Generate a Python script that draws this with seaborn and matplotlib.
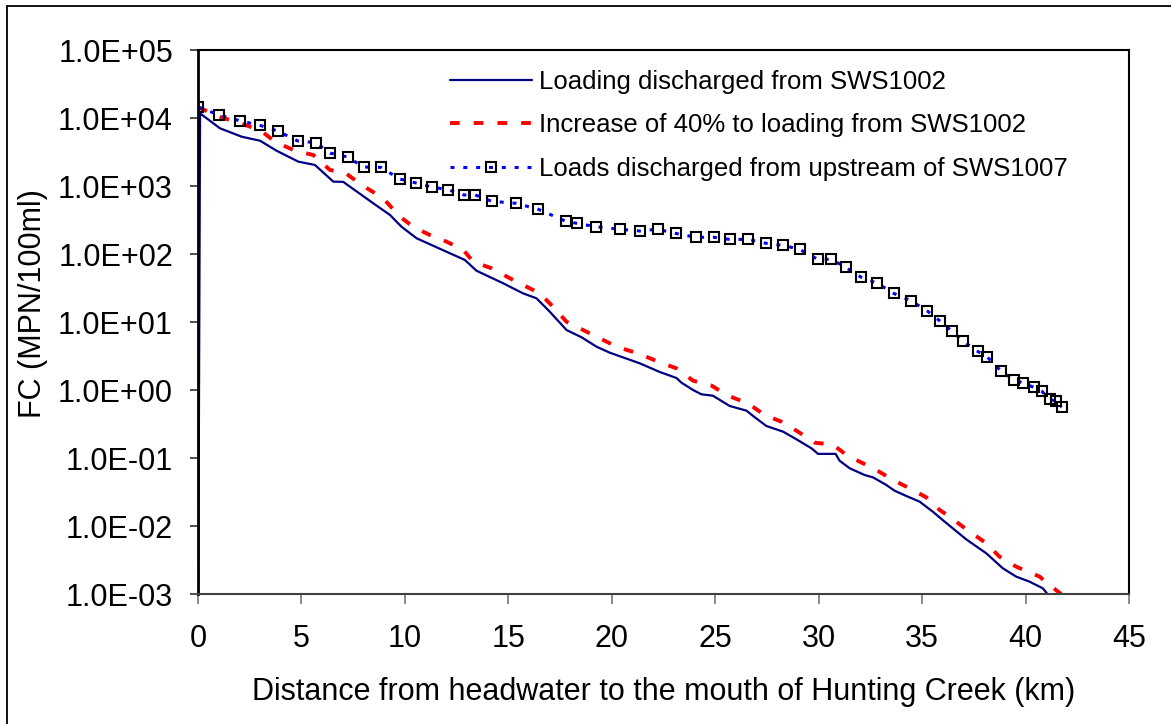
import numpy as np
import pandas as pd
import matplotlib
matplotlib.use('Agg')
import matplotlib.pyplot as plt
from matplotlib.lines import Line2D
import seaborn as sns

# Loading discharged from SWS1002 (km, MPN/100ml)
base_km = [0.0, 0.10, 1.06, 2.11, 3.00, 3.80, 4.85, 5.65, 6.54, 7.02, 8.47, 9.28, 9.84,
           10.57, 12.01, 12.90, 13.46, 14.75, 15.71, 16.36, 17.00, 17.81, 18.54, 19.26,
           19.90, 21.35, 22.32, 23.13, 23.37, 23.93, 24.33, 24.89, 25.70, 26.51, 26.83,
           27.47, 28.28, 28.84, 29.65, 29.97, 30.82, 31.01, 31.50, 32.22, 32.62, 33.27,
           33.67, 34.24, 34.88, 35.52, 36.00, 37.13, 38.10, 38.90, 39.55, 40.19, 40.84,
           41.16, 41.56]
base_fc = [1e-4, 11700, 7060, 5310, 4630, 3300, 2280, 2040, 1160, 1150, 557, 375, 251,
           170, 108, 81.7, 56.8, 37.1, 26.4, 22.3, 14.2, 7.63, 5.96, 4.34,
           3.54, 2.47, 1.84, 1.50, 1.28, 1.0, 0.865, 0.824, 0.582, 0.497, 0.415,
           0.296, 0.244, 0.195, 0.139, 0.115, 0.115, 0.0912, 0.0706, 0.0562, 0.052, 0.0401,
           0.033, 0.0276, 0.0228, 0.0162, 0.0122, 0.00637, 0.00397, 0.00239, 0.0018, 0.00152, 0.00121,
           0.000912, 0.000798]

# Increase of 40% to loading from SWS1002
inc_km = [0.0, 1.06, 2.03, 3.00, 3.72, 4.69, 5.57, 6.38, 7.10, 7.91, 8.95, 9.76, 10.40,
          11.21, 12.01, 12.82, 13.30, 14.19, 15.23, 16.52, 17.16, 17.81, 19.10, 20.23,
          21.35, 22.16, 23.13, 23.93, 24.82, 25.62, 26.58, 27.39, 28.20, 29.00, 29.81,
          30.69, 31.34, 31.98, 32.79, 33.59, 34.40, 35.20, 35.85, 36.33, 36.97, 38.10,
          38.74, 39.55, 40.68, 41.16, 41.72]
inc_fc = [14400, 10400, 8360, 6660, 4480, 3300, 2860, 1720, 1570, 1040, 659, 354, 252,
          190, 152, 115, 77.1, 61.6, 41.5, 26.4, 16.8, 10.1, 6.44, 4.34,
          3.38, 2.67, 2.08, 1.37, 1.16, 0.824, 0.637, 0.429, 0.342, 0.244, 0.168,
          0.157, 0.111, 0.0883, 0.0667, 0.0475, 0.0358, 0.0264, 0.0172, 0.0137, 0.00977, 0.00557,
          0.00354, 0.00252, 0.0018, 0.00135, 0.001]

# Loads discharged from upstream of SWS1007
up_km = [0.01, 1.03, 2.01, 2.98, 3.85, 4.82, 5.69, 6.38, 7.23, 8.00, 8.84, 9.74, 10.53,
         11.29, 12.08, 12.85, 13.40, 14.19, 15.35, 16.41, 17.78, 18.32, 19.23, 20.39,
         21.35, 22.22, 23.09, 24.06, 24.93, 25.70, 26.57, 27.44, 28.29, 29.08, 29.95,
         30.61, 31.30, 32.06, 32.84, 33.62, 34.48, 35.25, 35.85, 36.43, 36.99, 37.68,
         38.15, 38.83, 39.42, 39.90, 40.39, 40.79, 41.16, 41.45, 41.74]
up_fc = [14400, 11100, 9120, 7820, 6440, 4590, 4340, 3050, 2670, 1900, 1880, 1270, 1110,
         966, 883, 738, 738, 596, 557, 459, 303, 282, 252, 231,
         218, 231, 201, 176, 176, 164, 164, 144, 134, 117, 83.6,
         83.6, 63.7, 45.4, 37.1, 26.4, 20.4, 14.5, 10.4, 7.38, 5.2, 3.71,
         3.05, 1.88, 1.42, 1.26, 1.10, 0.957, 0.73, 0.689, 0.557]

labels = ['Loading discharged from SWS1002',
          'Increase of 40% to loading from SWS1002',
          'Loads discharged from upstream of SWS1007']

x_ticks = [0, 5, 10, 15, 20, 25, 30, 35, 40, 45]
y_exps = [-3, -2, -1, 0, 1, 2, 3, 4, 5]

sns.set_style('white')
plt.rcParams['font.family'] = ['Liberation Sans', 'DejaVu Sans']
plt.rcParams['text.color'] = 'black'
plt.rcParams['axes.labelcolor'] = 'black'
plt.rcParams['xtick.labelcolor'] = 'black'
plt.rcParams['ytick.labelcolor'] = 'black'

fig = plt.figure(figsize=(11.71, 7.24), dpi=100)
ax = fig.add_axes([198 / 1171, 130 / 724, 931 / 1171, 544 / 724])
ax.set_yscale('log')

sns.lineplot(x=base_km, y=base_fc, ax=ax, color='#000080', linewidth=1.6,
             sort=False, estimator=None, label=labels[0])
sns.lineplot(x=inc_km, y=inc_fc, ax=ax, color='#FF0000', linewidth=2.8,
             linestyle=(0, (2.5, 3.6)), sort=False, estimator=None, label=labels[1])
sns.lineplot(x=up_km, y=up_fc, ax=ax, color='#0000FF', linewidth=2.2,
             linestyle=(0, (1.3, 2.9)), marker='s', markersize=7.5, markerfacecolor='none',
             markeredgecolor='black', markeredgewidth=1.5,
             sort=False, estimator=None, label=labels[2])

ax.set_xlim(0, 45)
ax.set_ylim(1e-3, 1e5)
ax.set_xticks(x_ticks)
ax.set_xticklabels([str(v) for v in x_ticks], fontsize=22)
ax.set_yticks([10.0 ** e for e in y_exps])
ax.set_yticklabels([f'1.0E{e:+03d}' for e in y_exps], fontsize=22)
ax.yaxis.set_minor_locator(matplotlib.ticker.NullLocator())

ax.tick_params(axis='x', direction='out', length=7.5, width=1.3, color='#808080',
               pad=14, bottom=True)
ax.tick_params(axis='y', direction='out', length=6, width=1.3, color='#404040',
               pad=12, left=True)

for side in ['top', 'right']:
    ax.spines[side].set_color('black')
    ax.spines[side].set_linewidth(1.5)
ax.spines['left'].set_color('black')
ax.spines['left'].set_linewidth(2.0)
ax.spines['bottom'].set_color('#404040')
ax.spines['bottom'].set_linewidth(1.5)

ax.set_xlabel('Distance from headwater to the mouth of Hunting Creek (km)',
              fontsize=22, va='center')
ax.xaxis.set_label_coords(0.5005, -0.18)
ax.set_ylabel('FC (MPN/100ml)', fontsize=22, va='center')
ax.yaxis.set_label_coords(-0.177, 0.533)

leg = ax.legend(loc='upper left', bbox_to_anchor=(450 / 1171, 1 - 70 / 724),
                bbox_transform=fig.transFigure, frameon=False, fontsize=18.5,
                handlelength=3.2, handletextpad=0.27, labelspacing=0.75,
                borderpad=0, borderaxespad=0, numpoints=1)

# outer chart border (only left and top edges visible)
fig.add_artist(Line2D([7 / 1171, 7 / 1171], [0, 1 - 6 / 724], color='black', linewidth=1.3,
                      transform=fig.transFigure))
fig.add_artist(Line2D([7 / 1171, 1], [1 - 6 / 724, 1 - 6 / 724], color='black', linewidth=1.3,
                      transform=fig.transFigure))

plt.savefig('out.png', dpi=100)
plt.close()
